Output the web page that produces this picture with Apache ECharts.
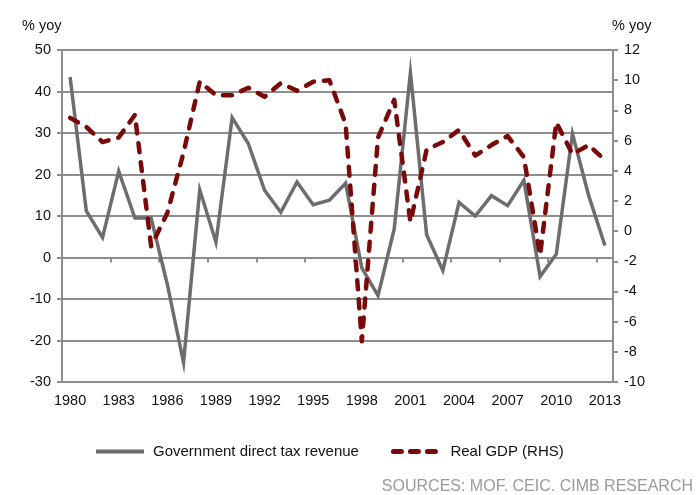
<!DOCTYPE html>
<html>
<head>
<meta charset="utf-8">
<script src="https://cdn.jsdelivr.net/npm/echarts@6/dist/echarts.min.js"></script>
<style>
  html, body { margin: 0; padding: 0; background: #fff; }
  #chart { width: 696px; height: 495px; }
</style>
</head>
<body>
<div id="chart"></div>
<script>
// Annual growth, % yoy
const years = ['1980','1981','1982','1983','1984','1985','1986','1987','1988','1989',
  '1990','1991','1992','1993','1994','1995','1996','1997','1998','1999',
  '2000','2001','2002','2003','2004','2005','2006','2007','2008','2009',
  '2010','2011','2012','2013'];

// Government direct tax revenue (left axis)
const taxRevenue = [43.5, 11.2, 4.8, 20.8, 9.5, 9.5, -6.5, -25.3, 16.3, 3.7,
  33.7, 27.4, 16.2, 10.9, 18.2, 12.7, 13.8, 17.9, -2.5, -9.2,
  6.9, 44.5, 5.5, -3.1, 13.3, 10.0, 14.9, 12.5, 18.6, -4.6,
  0.8, 29.8, 14.9, 2.9];

// Real GDP (right axis)
const realGdp = [7.5, 6.9, 5.9, 6.2, 7.7, -1.0, 1.2, 5.2, 9.9, 9.0,
  9.0, 9.5, 8.9, 9.8, 9.3, 9.9, 10.0, 7.1, -7.3, 6.2,
  8.7, 0.6, 5.4, 5.9, 6.7, 5.0, 5.7, 6.3, 4.9, -1.6,
  7.2, 5.1, 5.7, 4.7];

const leftTicks = { min: -30, max: 50, interval: 10 };
const rightTicks = { min: -10, max: 12, interval: 2 };

const FONT = 'Liberation Sans, Arial, sans-serif';
const AXIS_GREY = '#8e8e8e';
const TEXT = '#111';
const TAX_GREY = '#6d6d6f';
const GDP_RED = '#7a0a0a';

const chart = echarts.init(document.getElementById('chart'), null, { renderer: 'canvas' });

chart.setOption({
  animation: false,
  backgroundColor: '#fff',
  textStyle: { fontFamily: FONT },
  grid: { left: 62, right: 83, top: 50, bottom: 113, containLabel: false },
  legend: {
    left: 94,
    top: 444,
    padding: 0,
    itemWidth: 48,
    itemHeight: 14,
    itemGap: 32,
    // line-only keys: hide the marker that line series add to their icon
    itemStyle: { opacity: 0, borderWidth: 0 },
    textStyle: { fontFamily: FONT, fontSize: 15, color: TEXT, padding: [0, 0, 0, 4] },
    data: [
      { name: 'Government direct tax revenue', lineStyle: { width: 4, color: TAX_GREY } },
      { name: 'Real GDP (RHS)', lineStyle: { width: 5, color: GDP_RED, type: [8, 9], cap: 'round' } }
    ]
  },
  xAxis: [
    {
      // axis drawn along the zero line with tick marks every third year
      type: 'category',
      data: years,
      boundaryGap: true,
      axisLine: { show: true, onZero: true, onZeroAxisIndex: 0, lineStyle: { color: AXIS_GREY, width: 2 } },
      axisTick: { show: true, interval: 2, length: 5, lineStyle: { color: AXIS_GREY, width: 2 } },
      axisLabel: { show: false },
      splitLine: { show: false }
    },
    {
      // year labels along the bottom edge
      type: 'category',
      data: years,
      position: 'bottom',
      boundaryGap: true,
      axisLine: { show: true, onZero: false, lineStyle: { color: AXIS_GREY, width: 2 } },
      axisTick: { show: false },
      axisLabel: { interval: 2, margin: 11, fontFamily: FONT, fontSize: 14.5, color: TEXT },
      splitLine: { show: false }
    }
  ],
  yAxis: [
    {
      type: 'value',
      position: 'left',
      min: leftTicks.min, max: leftTicks.max, interval: leftTicks.interval,
      axisLine: { show: true, lineStyle: { color: AXIS_GREY, width: 2 } },
      axisTick: { show: true, length: 5, lineStyle: { color: AXIS_GREY, width: 2 } },
      axisLabel: { margin: 11, fontFamily: FONT, fontSize: 14.5, color: TEXT },
      splitLine: { show: true, lineStyle: { color: AXIS_GREY, width: 2 } }
    },
    {
      type: 'value',
      position: 'right',
      min: rightTicks.min, max: rightTicks.max, interval: rightTicks.interval,
      axisLine: { show: true, lineStyle: { color: AXIS_GREY, width: 2 } },
      axisTick: { show: true, length: 5, lineStyle: { color: AXIS_GREY, width: 2 } },
      axisLabel: { margin: 11, fontFamily: FONT, fontSize: 14.5, color: TEXT },
      splitLine: { show: false }
    }
  ],
  series: [
    {
      name: 'Government direct tax revenue',
      type: 'line',
      xAxisIndex: 0,
      yAxisIndex: 0,
      data: taxRevenue,
      symbol: 'none',
      color: TAX_GREY,
      lineStyle: { color: TAX_GREY, width: 3.5, join: 'miter' },
      z: 3
    },
    {
      name: 'Real GDP (RHS)',
      type: 'line',
      xAxisIndex: 0,
      yAxisIndex: 1,
      data: realGdp,
      symbol: 'none',
      color: GDP_RED,
      lineStyle: { color: GDP_RED, width: 4.5, type: [9, 10], cap: 'round', join: 'round' },
      z: 4
    }
  ],
  graphic: [
    { type: 'text', left: 22, top: 18, style: { text: '% yoy', font: '14.5px ' + FONT, fill: TEXT } },
    { type: 'text', left: 612, top: 18, style: { text: '% yoy', font: '14.5px ' + FONT, fill: TEXT } },
    { type: 'text', right: 3, top: 479, style: { text: 'SOURCES: MOF. CEIC. CIMB RESEARCH', font: '16px ' + FONT, fill: '#9a9a9a' } }
  ]
});
</script>
</body>
</html>
